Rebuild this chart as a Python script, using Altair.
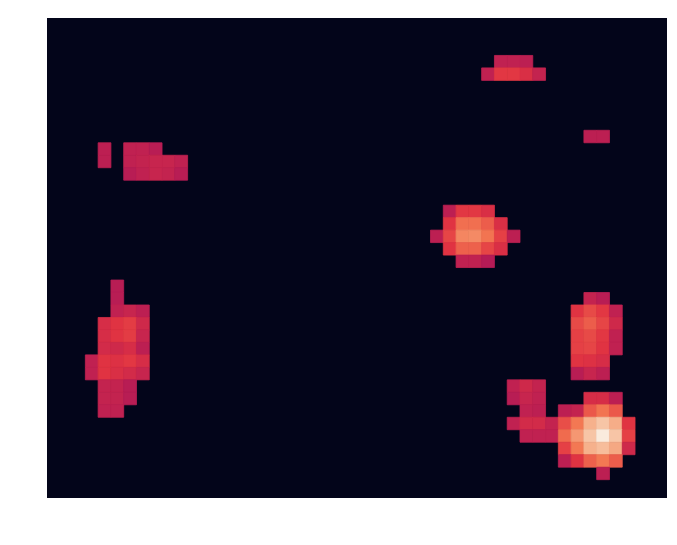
import altair as alt
import pandas as pd

# Heatmap grid size (last row/column partly clipped, as in the reference)
N_ROWS = 39
N_COLS = 49
X_EXTENT = 48.5
Y_EXTENT = 38.47

# Non-zero cells: (row, first column, values along the row)
blob_rows = [3, 4, 9, 10, 10, 11, 11, 12, 15, 16, 17, 18, 19, 21, 22, 22, 23, 23, 24, 24,
             25, 25, 26, 26, 27, 27, 28, 28, 29, 29, 30, 30, 30, 31, 31, 31, 32, 33, 34, 35, 36]
blob_cols = [35, 34, 42, 4, 6, 4, 6, 6, 31, 31, 30, 31, 32, 5, 5, 42, 5, 41, 4, 41,
             4, 41, 4, 41, 3, 41, 3, 41, 4, 36, 4, 36, 42, 4, 37, 40, 36, 37, 40, 40, 43]
blob_vals = [
    [0.48, 0.48, 0.47],
    [0.48, 0.58, 0.58, 0.55, 0.49],
    [0.47, 0.47],
    [0.47],
    [0.48, 0.48, 0.46],
    [0.47],
    [0.48, 0.49, 0.50, 0.50, 0.48],
    [0.46, 0.48, 0.50, 0.49, 0.46],
    [0.47, 0.58, 0.58, 0.55],
    [0.57, 0.70, 0.70, 0.66, 0.55],
    [0.47, 0.61, 0.75, 0.76, 0.71, 0.60, 0.47],
    [0.57, 0.67, 0.67, 0.61, 0.55],
    [0.48, 0.48, 0.45],
    [0.46],
    [0.46],
    [0.49, 0.46],
    [0.48, 0.50, 0.47],
    [0.57, 0.62, 0.58, 0.48],
    [0.54, 0.57, 0.59, 0.52],
    [0.62, 0.66, 0.61, 0.52],
    [0.54, 0.57, 0.59, 0.50],
    [0.60, 0.62, 0.58, 0.48],
    [0.53, 0.52, 0.54, 0.47],
    [0.60, 0.61, 0.57, 0.48],
    [0.48, 0.57, 0.56, 0.58, 0.54],
    [0.57, 0.56, 0.54],
    [0.48, 0.57, 0.55, 0.53, 0.50],
    [0.46, 0.50, 0.47],
    [0.49, 0.49, 0.46],
    [0.48, 0.52, 0.49],
    [0.49, 0.49, 0.46],
    [0.46, 0.50, 0.48],
    [0.54, 0.54, 0.47],
    [0.48, 0.48],
    [0.48, 0.47],
    [0.47, 0.49, 0.65, 0.71, 0.65],
    [0.48, 0.53, 0.53, 0.49, 0.63, 0.72, 0.85, 0.90, 0.84, 0.57],
    [0.48, 0.48, 0.48, 0.69, 0.79, 0.90, 1.00, 0.90, 0.60],
    [0.60, 0.72, 0.85, 0.88, 0.83, 0.52],
    [0.47, 0.57, 0.67, 0.72, 0.66],
    [0.47],
]

# "rocket" colour map stops
rocket_stops = [0, 1 / 7, 2 / 7, 3 / 7, 4 / 7, 5 / 7, 6 / 7, 1]
rocket_colors = ["#03051a", "#35193e", "#701f57", "#ad1759", "#e13342",
                 "#f37651", "#f6b48f", "#faebdd"]

grid = {(r, c): 0.0 for r in range(N_ROWS) for c in range(N_COLS)}
for r, c0, vals in zip(blob_rows, blob_cols, blob_vals):
    for i, v in enumerate(vals):
        grid[(r, c0 + i)] = v

df = pd.DataFrame(
    [{"row": r, "row2": r + 1, "col": c, "col2": c + 1, "value": v}
     for (r, c), v in grid.items()]
)

rocket_scale = alt.Scale(domain=rocket_stops, range=rocket_colors, interpolate="rgb")

# zero cells share the colour of the view background (rocket at 0)
chart = (
    alt.Chart(df)
    .transform_filter(alt.datum.value > 0)
    .mark_rect(clip=True, strokeWidth=0.8)
    .encode(
        x=alt.X("col:Q", scale=alt.Scale(domain=[0, X_EXTENT], nice=False, zero=False), axis=None),
        x2="col2:Q",
        y=alt.Y("row:Q", scale=alt.Scale(domain=[0, Y_EXTENT], nice=False, zero=False, reverse=True), axis=None),
        y2="row2:Q",
        color=alt.Color("value:Q", scale=rocket_scale, legend=None),
        stroke=alt.Stroke("value:Q", scale=rocket_scale, legend=None),
    )
    .properties(
        width=620,
        height=480,
        autosize=alt.AutoSizeParams(type="none"),
        padding={"left": 47, "top": 18, "right": 10, "bottom": 47},
        background="white",
    )
    .configure_view(stroke=None, fill=rocket_colors[0])
)

chart.save("out.html", embed_options={"renderer": "svg", "actions": False})
